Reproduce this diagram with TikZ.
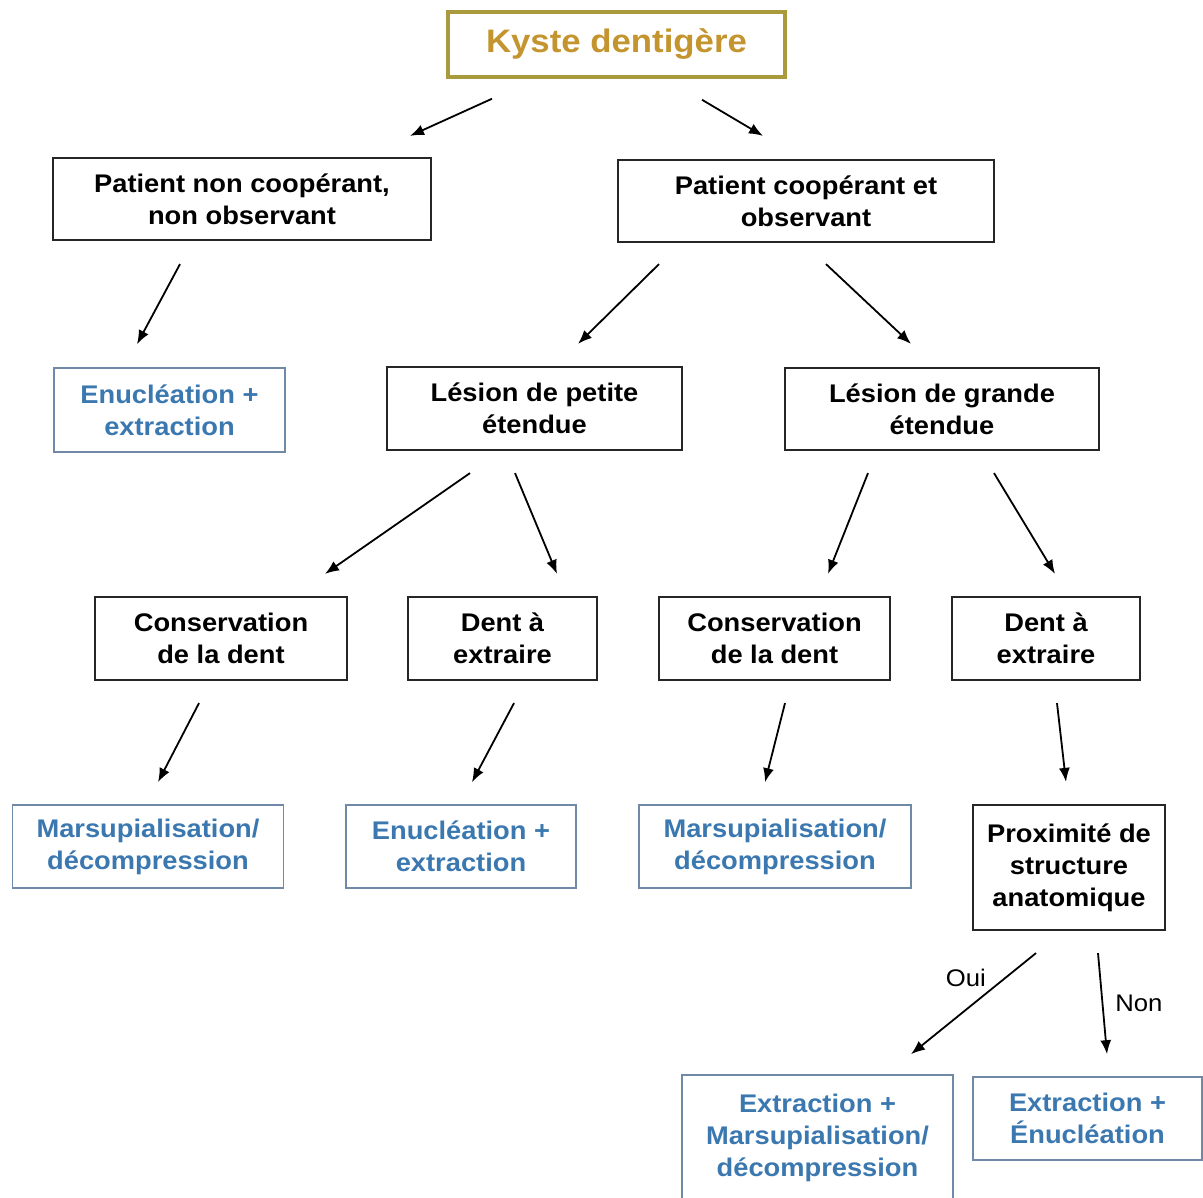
\documentclass[tikz,border=0pt]{standalone}
\usepackage{fontspec}
\setmainfont{Liberation Sans}[FakeStretch=1.07]
\usetikzlibrary{arrows.meta}
\definecolor{kystegold}{HTML}{A99A3B}
\definecolor{kystetxt}{HTML}{C4952F}
\definecolor{solblue}{HTML}{3B78B0}
\definecolor{solframe}{HTML}{7089A6}

\begin{document}
\begin{tikzpicture}[x=1pt, y=-1pt,
  choix/.style={draw=black!85, line width=2.2pt, align=center, inner sep=0pt,
    font=\bfseries\fontsize{25.5}{32}\selectfont},
  traitement/.style={choix, draw=solframe, line width=1.6pt, text=solblue},
  fleche/.style={line width=1.8pt, -{Latex[length=14pt,width=11pt]}},
  reponse/.style={font=\fontsize{24}{28}\selectfont, inner sep=0pt}]
\useasboundingbox[fill=white] (0,0) rectangle (1203,1198);

% titre
\node[draw=kystegold, line width=3.5pt, text=kystetxt, inner sep=0pt,
  minimum width=337pt, minimum height=65pt,
  font=\bfseries\fontsize{32.5}{38}\selectfont] (kyste) at (616.5,44.5) {Kyste dentigère};

% niveau patient
\node[choix, minimum width=378pt, minimum height=82pt] (noncoop) at (242,199) {Patient non coopérant,\\non observant};
\node[choix, minimum width=376pt, minimum height=82pt] (coop) at (806,201) {Patient coopérant et\\observant};

% niveau lesion
\node[traitement, minimum width=231pt, minimum height=84pt] (enuc1) at (169.5,410) {Enucléation +\\extraction};
\node[choix, minimum width=295pt, minimum height=83pt] (petite) at (534.5,408.5) {Lésion de petite\\étendue};
\node[choix, minimum width=314pt, minimum height=82pt] (grande) at (942,409) {Lésion de grande\\étendue};

% niveau dent
\node[choix, minimum width=252pt, minimum height=83pt] (cons1) at (221,638.5) {Conservation\\de la dent};
\node[choix, minimum width=189pt, minimum height=83pt] (dent1) at (502.5,638.5) {Dent à\\extraire};
\node[choix, minimum width=231pt, minimum height=83pt] (cons2) at (774.5,638.5) {Conservation\\de la dent};
\node[choix, minimum width=188pt, minimum height=83pt] (dent2) at (1046,638.5) {Dent à\\extraire};

% traitements
\node[traitement, minimum width=271pt, minimum height=83pt] (mars1) at (148,846.5) {Marsupialisation/\\décompression};
\node[traitement, minimum width=230pt, minimum height=83pt] (enuc2) at (461,846.5) {Enucléation +\\extraction};
\node[traitement, minimum width=272pt, minimum height=83pt] (mars2) at (775,846.5) {Marsupialisation/\\décompression};
\node[choix, minimum width=192pt, minimum height=125pt] (prox) at (1069,867.5) {Proximité de\\structure\\anatomique};
\node[traitement, minimum width=271pt, minimum height=125pt] (extmars) at (817.5,1137.5) {Extraction +\\Marsupialisation/\\décompression};
\node[traitement, minimum width=229pt, minimum height=83pt] (extenuc) at (1087.5,1118.5) {Extraction +\\Énucléation};

% fleches
\draw[fleche] ([shift={(-124.5,20)}]kyste.south) -- ([shift={(168,-21)}]noncoop.north);
\draw[fleche] ([shift={(85.5,21)}]kyste.south) -- ([shift={(-43,-23)}]coop.north);
\draw[fleche] ([shift={(-62,23)}]noncoop.south) -- ([shift={(-32.5,-23)}]enuc1.north);
\draw[fleche] ([shift={(-147,21)}]coop.south) -- ([shift={(43.5,-22)}]petite.north);
\draw[fleche] ([shift={(20,21)}]coop.south) -- ([shift={(-31,-23)}]grande.north);
\draw[fleche] ([shift={(-64.5,22)}]petite.south) -- ([shift={(104,-22)}]cons1.north);
\draw[fleche] ([shift={(-19.5,22)}]petite.south) -- ([shift={(54.5,-22)}]dent1.north);
\draw[fleche] ([shift={(-74,22)}]grande.south) -- ([shift={(53.5,-22)}]cons2.north);
\draw[fleche] ([shift={(52,22)}]grande.south) -- ([shift={(9,-22)}]dent2.north);
\draw[fleche] ([shift={(-22,22)}]cons1.south) -- ([shift={(10,-22)}]mars1.north);
\draw[fleche] ([shift={(11.5,22)}]dent1.south) -- ([shift={(11,-22)}]enuc2.north);
\draw[fleche] ([shift={(10.5,22)}]cons2.south) -- ([shift={(-10,-22)}]mars2.north);
\draw[fleche] ([shift={(11,22)}]dent2.south) -- ([shift={(-3,-22)}]prox.north);
\draw[fleche] ([shift={(-33,22)}]prox.south) -- node[reponse, pos=0.25, left=18pt] (oui) {Oui} ([shift={(93.5,-20)}]extmars.north);
\draw[fleche] ([shift={(29,22)}]prox.south) -- node[reponse, pos=0.5, right=12pt] (non) {Non} ([shift={(19.5,-22)}]extenuc.north);
\end{tikzpicture}
\end{document}
